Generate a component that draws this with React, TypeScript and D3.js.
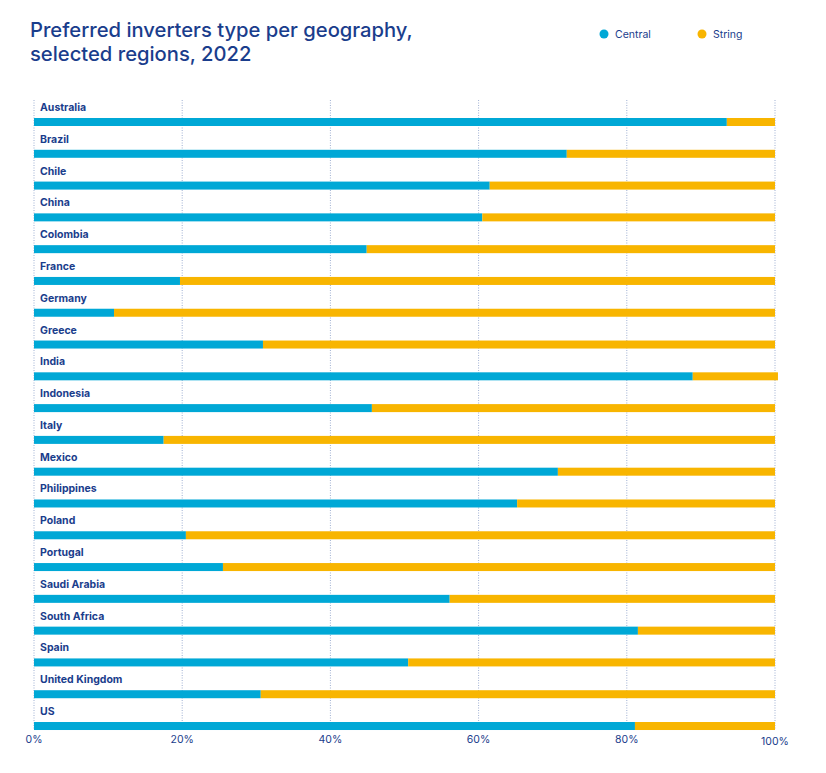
import React from "react";
import * as d3 from "d3";

const countries = ["Australia","Brazil","Chile","China","Colombia","France","Germany","Greece","India","Indonesia","Italy","Mexico","Philippines","Poland","Portugal","Saudi Arabia","South Africa","Spain","United Kingdom","US"];
const central = [93.5,71.9,61.5,60.5,44.9,19.7,10.8,30.9,88.9,45.6,17.5,70.7,65.2,20.5,25.5,56.1,81.5,50.5,30.6,81.1];
const stringShare = [6.5,28.1,38.5,39.5,55.1,80.3,89.2,69.1,11.5,54.4,82.5,29.3,34.8,79.5,74.5,43.9,18.5,49.5,69.4,18.9];
const ticks = [0,20,40,60,80,100];
const seriesNames = ["Central","String"];

const W = 826, H = 773;
const TEXT = "#1a3d8c";
const C_CENTRAL = "#00a8d6";
const C_STRING = "#f8b500";
const FONT = "Inter, 'Noto Sans', sans-serif";

export default function App() {
  const x = d3.scaleLinear().domain([0, 100]).range([34, 775]);
  const y = d3.scaleBand().domain(countries).range([89, 89 + 31.79 * 20]).paddingInner(0).paddingOuter(0);
  const barH = 8;
  const barOffset = 29;
  return (
    <svg width={W} height={H} style={{ position: "absolute", left: 0, top: 0, background: "#fff" }}>
      <text x={30} y={37} fontFamily={FONT} fontSize={20.2} fontWeight={500} fill={TEXT}>Preferred inverters type per geography,</text>
      <text x={30} y={61} fontFamily={FONT} fontSize={20.2} fontWeight={500} fill={TEXT}>selected regions, 2022</text>
      {seriesNames.map((s, i) => (
        <g key={s}>
          <circle cx={i === 0 ? 604 : 702} cy={34} r={4.5} fill={i === 0 ? C_CENTRAL : C_STRING} />
          <text x={i === 0 ? 615 : 713} y={38} fontFamily={FONT} fontSize={10.5} fill={TEXT}>{s}</text>
        </g>
      ))}
      {ticks.map(t => (
        <line key={t} x1={x(t)} x2={x(t)} y1={100} y2={730} stroke="#9fb0d2" strokeWidth={1} strokeDasharray="1,1.5" />
      ))}
      {countries.map((c, i) => {
        const top = (y(c) as number);
        return (
          <g key={c}>
            <text x={40} y={top + 22} fontFamily={FONT} fontSize={10.5} fontWeight={700} fill={TEXT}>{c}</text>
            <rect x={x(0)} y={top + barOffset} width={x(central[i]) - x(0)} height={barH} fill={C_CENTRAL} />
            <rect x={x(central[i])} y={top + barOffset} width={x(central[i] + stringShare[i]) - x(central[i])} height={barH} fill={C_STRING} />
          </g>
        );
      })}
      {ticks.map(t => (
        <text key={t} x={x(t)} y={t === 100 ? 745 : 743} textAnchor="middle" fontFamily={FONT} fontSize={10.5} fill={TEXT}>{t}%</text>
      ))}
    </svg>
  );
}
